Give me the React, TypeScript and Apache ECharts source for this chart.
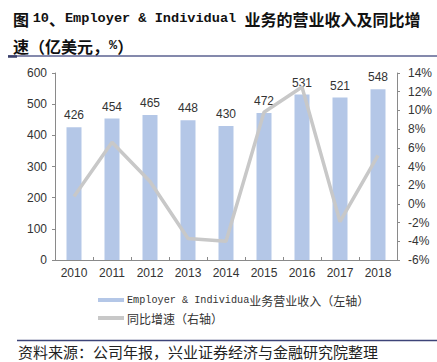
import React, { useEffect, useRef } from "react";
import * as echarts from "echarts";

const years = ["2010", "2011", "2012", "2013", "2014", "2015", "2016", "2017", "2018"];
const revenue = [426, 454, 465, 448, 430, 472, 531, 521, 548];
const growth = [0.8, 6.6, 2.4, -3.7, -4.0, 9.8, 12.5, -1.9, 5.2];
const barName = "Employer & Individua业务营业收入（左轴）";
const lineName = "同比增速（右轴）";

const CJK = "'Noto Sans CJK SC', sans-serif";
const MONO = "'Liberation Mono', 'DejaVu Sans Mono', monospace";
const SANS = "'Liberation Sans', Arial, sans-serif";

export default function App() {
  const ref = useRef<HTMLDivElement>(null);
  useEffect(() => {
    if (!ref.current) return;
    const chart = echarts.init(ref.current, null, { renderer: "svg" });
    const axisLine = { show: true, lineStyle: { color: "#8a8a8a", width: 1 } };
    chart.setOption({
      animation: false,
      backgroundColor: "#fff",
      title: {
        left: 8,
        top: 0,
        text:
          "{c|图 }{m|10}{c|、}{m|Employer & Individual }{c|业务的营业收入及同比增}\n{c|速（亿美元，}{m|%}{c|）}",
        textStyle: {
          rich: {
            c: { fontFamily: CJK, fontWeight: "bold", fontSize: 16, color: "#111", lineHeight: 27 },
            m: { fontFamily: MONO, fontWeight: "bold", fontSize: 13.6, color: "#111", lineHeight: 27 },
          },
        },
      },
      grid: { left: 55, right: 40, top: 73, bottom: 102, containLabel: false },
      legend: {
        orient: "vertical",
        left: 93,
        top: 289,
        itemWidth: 26,
        itemHeight: 4,
        itemGap: 6,
        icon: "rect",
        data: [
          { name: barName, icon: "rect", itemStyle: { color: "#b4c7e7" } },
          { name: lineName, icon: "rect", itemStyle: { color: "#c8c8c8" } },
        ],
        formatter: (name: string) => {
          if (name === barName) return "{m|Employer & Individua}{c|业务营业收入（左轴）}";
          return "{c|" + name + "}";
        },
        textStyle: {
          padding: [0, 0, 0, -2],
          rich: {
            c: { fontFamily: CJK, fontSize: 12, color: "#333", lineHeight: 14 },
            m: { fontFamily: MONO, fontSize: 10.2, color: "#333", lineHeight: 14 },
          },
        },
      },
      xAxis: {
        type: "category",
        data: years,
        axisLine,
        axisTick: { show: true, inside: true, length: 3, lineStyle: { color: "#8a8a8a" } },
        axisLabel: { fontFamily: SANS, fontSize: 12, color: "#333", margin: 7 },
      },
      yAxis: [
        {
          type: "value",
          min: 0,
          max: 600,
          interval: 100,
          axisLine,
          axisTick: { show: true, length: 3, lineStyle: { color: "#8a8a8a" } },
          splitLine: { show: false },
          axisLabel: { fontFamily: SANS, fontSize: 12, color: "#333", margin: 8 },
        },
        {
          type: "value",
          min: -6,
          max: 14,
          interval: 2,
          axisLine,
          axisTick: { show: true, length: 3, lineStyle: { color: "#8a8a8a" } },
          splitLine: { show: false },
          axisLabel: { fontFamily: SANS, fontSize: 12, color: "#333", margin: 11, formatter: "{value}%" },
        },
      ],
      series: [
        {
          name: barName,
          type: "bar",
          data: revenue,
          barWidth: 15,
          itemStyle: { color: "#b4c7e7" },
          label: {
            show: true,
            position: "top",
            distance: 6,
            fontFamily: SANS,
            fontSize: 12,
            color: "#333",
          },
        },
        {
          name: lineName,
          type: "line",
          yAxisIndex: 1,
          data: growth,
          symbol: "none",
          lineStyle: { color: "#c8c8c8", width: 3.5 },
          itemStyle: { color: "#c8c8c8" },
        },
      ],
      graphic: [
        { type: "line", shape: { x1: 8, y1: 56, x2: 437, y2: 56 }, style: { stroke: "#5b6290", lineWidth: 1.5 } },
        { type: "line", shape: { x1: 8, y1: 56.5, x2: 17, y2: 56.5 }, style: { stroke: "#3a3f6a", lineWidth: 2.5 } },
        { type: "line", shape: { x1: 17, y1: 340.5, x2: 437, y2: 340.5 }, style: { stroke: "#3d4478", lineWidth: 1.5 } },
        {
          type: "text",
          left: 18,
          top: 344,
          style: {
            text: "资料来源：公司年报，兴业证券经济与金融研究院整理",
            fontFamily: CJK,
            fontSize: 15,
            fill: "#222",
          },
        },
      ],
    });
    return () => chart.dispose();
  }, []);
  return <div ref={ref} style={{ position: "fixed", left: 0, top: 0, width: 437, height: 362 }} />;
}
